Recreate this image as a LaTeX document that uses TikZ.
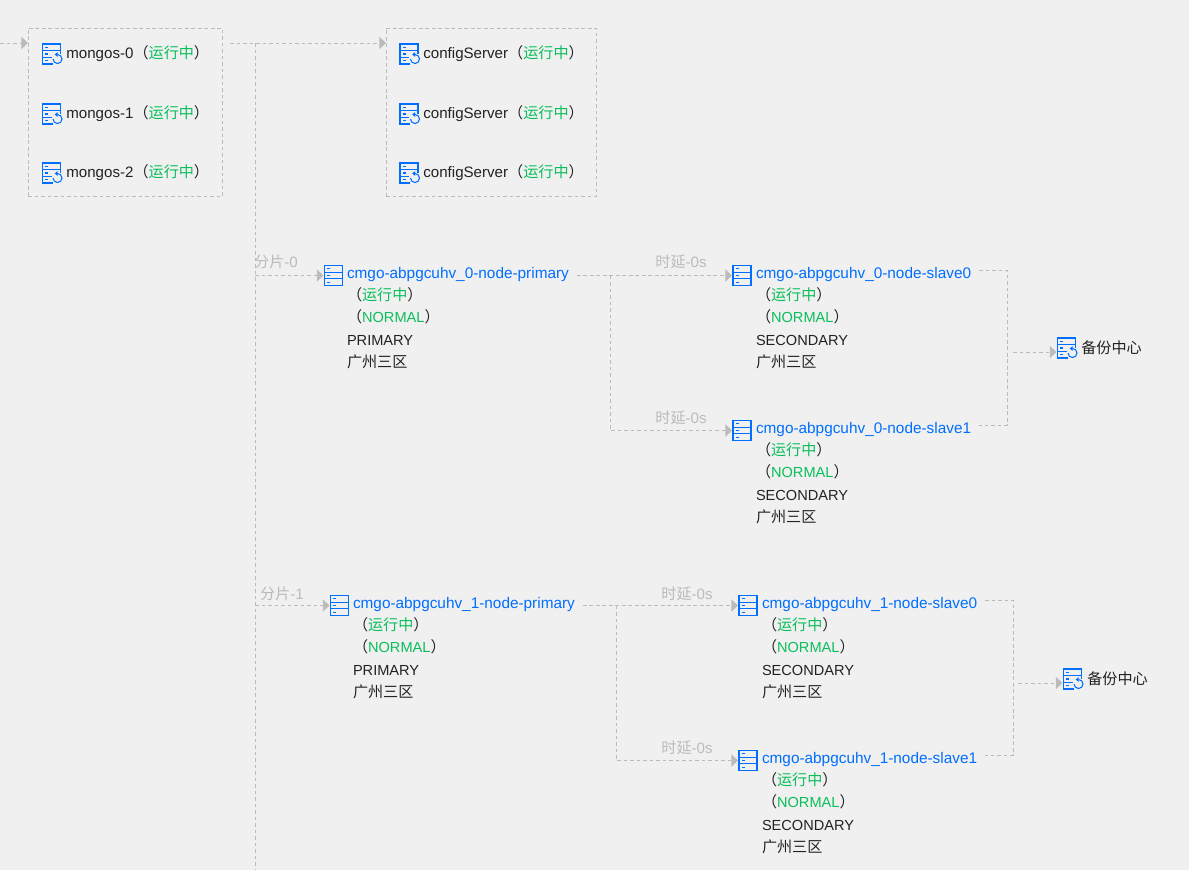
\documentclass[tikz,border=0pt]{standalone}
\usepackage{fontspec}
\setmainfont{Liberation Sans}
\newfontfamily\cjk{Noto Sans CJK SC}
\usetikzlibrary{arrows.meta}
\definecolor{canvasgray}{HTML}{F0F0F0}
\definecolor{linkgray}{HTML}{BBBBBB}
\definecolor{iconblue}{HTML}{006EFF}
\definecolor{okgreen}{HTML}{0ABF5B}
\definecolor{inkblack}{HTML}{222222}
\newcommand{\zh}[1]{{\cjk #1}}
\newcommand{\runtag}{\zh{（\textcolor{okgreen}{运行中}）}}
\newcommand{\capsize}{\fontsize{8.3}{12.76}\selectfont}
\newcommand{\nodeinfo}[2]{{\fontsize{8.74}{12.76}\selectfont\textcolor{iconblue}{#1}}\\\runtag\\\zh{（}{\capsize\textcolor{okgreen}{NORMAL}}\zh{）}\\{\capsize #2}\\\zh{广州三区}}
\tikzset{
  plainglyph/.pic={
    \draw[iconblue,line width=0.6pt] (-9,-10) rectangle (9,10) (-9,-3.3) -- (9,-3.3) (-9,3.3) -- (9,3.3);
    \foreach \rowy in {-6.7,0,6.7} \draw[iconblue,line width=0.6pt] (-6.5,\rowy) -- (-3.5,\rowy);
  },
  backupglyph/.pic={
    \draw[iconblue,line width=0.6pt] (1,10) -- (-9,10) -- (-9,-10) -- (9,-10) -- (9,0) (-9,-3.3) -- (9,-3.3) (-9,3.3) -- (0,3.3);
    \foreach \rowy in {-6.7,0,6.7} \draw[iconblue,line width=0.6pt] (-6.5,\rowy) -- (-3.5,\rowy);
    \draw[iconblue,line width=0.6pt] (6,0.5) arc[start angle=-90,end angle=180,radius=4.5];
    \fill[iconblue] (3.2,0.5) -- (6,-1.8) -- (6,2.8) -- cycle;
  }
}
\newcommand{\plainicon}[3]{\node[iconbox] (#1) at (#2,#3) {}; \pic at (#1) {plainglyph};}
\newcommand{\backupicon}[3]{\node[iconbox] (#1) at (#2,#3) {}; \pic at (#1) {backupglyph};}
\begin{document}
\begin{tikzpicture}[x=0.02cm,y=-0.02cm,
  every node/.style={font=\fontsize{8.6}{12.76}\selectfont,text=inkblack},
  iconbox/.style={minimum width=0.36cm,minimum height=0.4cm,inner sep=0pt,outer sep=0pt},
  groupbox/.style={draw=linkgray,line width=0.55pt,dash pattern=on 2.2pt off 1.5pt,inner sep=0pt,outer sep=0pt,anchor=north west},
  rowtext/.style={anchor=base west,inner sep=0pt},
  shardtext/.style={anchor=north west,align=left,inner xsep=0.16cm,inner ysep=0pt,outer sep=0pt},
  hoplabel/.style={text=linkgray,inner sep=0pt},
  link/.style={draw=linkgray,line width=0.55pt,dash pattern=on 2.2pt off 1.5pt},
  linkto/.style={link,shorten >=0.6pt,-{Triangle[length=3.8pt,width=7pt,fill=linkgray,sep=0pt]}}]
\useasboundingbox (0,0) rectangle (1189,870);
\fill[canvasgray] (0,0) rectangle (1189,870);
% top row
\node[groupbox,minimum width=3.89cm,minimum height=3.37cm] (mongosbox) at (28,28) {};
\node[groupbox,minimum width=4.21cm,minimum height=3.37cm] (configbox) at (386,28) {};
\backupicon{mongos0i}{51.5}{54}
\backupicon{mongos1i}{51.5}{114}
\backupicon{mongos2i}{51.5}{173}
\node[rowtext] (mongos0) at (66,58) {mongos-0\runtag};
\node[rowtext] (mongos1) at (66,118) {mongos-1\runtag};
\node[rowtext] (mongos2) at (66,177) {mongos-2\runtag};
\backupicon{config0i}{409}{54}
\backupicon{config1i}{409}{114}
\backupicon{config2i}{409}{173}
\node[rowtext] (config0) at (423,58) {configServer\runtag};
\node[rowtext] (config1) at (423,118) {configServer\runtag};
\node[rowtext] (config2) at (423,177) {configServer\runtag};
\coordinate (entry) at (0,43);
\coordinate (bus) at (230,43);
\coordinate (trunktop) at (255,43);
\coordinate (trunkend) at (255,870);
\draw[linkto,shorten >=0pt] (entry) -- (mongosbox.west |- entry);
\draw[linkto,shorten >=0pt] (bus) -- (configbox.west |- bus);
\draw[link] (trunktop) -- (trunkend);
% shard 0
\plainicon{prim0i}{333.5}{275.5}
\plainicon{sec00i}{742}{275.5}
\plainicon{sec01i}{742}{430.5}
\backupicon{bak0i}{1066.5}{348}
\node[shardtext] (prim0) at (339,267) {\nodeinfo{cmgo-abpgcuhv\_0-node-primary}{PRIMARY}};
\node[shardtext] (sec00) at (748,267) {\nodeinfo{cmgo-abpgcuhv\_0-node-slave0}{SECONDARY}};
\node[shardtext] (sec01) at (748,422) {\nodeinfo{cmgo-abpgcuhv\_0-node-slave1}{SECONDARY}};
\node[rowtext] (bak0) at (1081,353) {\zh{备份中心}};
\coordinate (tap0) at (255,275.5);
\coordinate (fork0) at (610,275.5);
\coordinate (joina0) at (1007,270);
\coordinate (joinb0) at (1007,425);
\coordinate (out0) at (1013,352);
\draw[linkto] (tap0) -- (prim0i.west |- tap0);
\draw[linkto] (prim0.east |- sec00i) -- (sec00i.west);
\draw[linkto] (fork0) |- (sec01i.west);
\draw[link] (sec00.east |- joina0) -- (joina0) -- (joinb0) -- (sec01.east |- joinb0);
\draw[linkto] (out0) -- (bak0i.west |- out0);
\node[hoplabel] (shard0) at (276,262) {\zh{分片}-0};
\node[hoplabel] (lag00) at (681,262) {\zh{时延}-0s};
\node[hoplabel] (lag01) at (681,418) {\zh{时延}-0s};
% shard 1
\plainicon{prim1i}{339.5}{605.5}
\plainicon{sec10i}{748}{605.5}
\plainicon{sec11i}{748}{760.5}
\backupicon{bak1i}{1072.5}{679}
\node[shardtext] (prim1) at (345,597) {\nodeinfo{cmgo-abpgcuhv\_1-node-primary}{PRIMARY}};
\node[shardtext] (sec10) at (754,597) {\nodeinfo{cmgo-abpgcuhv\_1-node-slave0}{SECONDARY}};
\node[shardtext] (sec11) at (754,752) {\nodeinfo{cmgo-abpgcuhv\_1-node-slave1}{SECONDARY}};
\node[rowtext] (bak1) at (1087,684) {\zh{备份中心}};
\coordinate (tap1) at (255,605.5);
\coordinate (fork1) at (616,605.5);
\coordinate (joina1) at (1013,600);
\coordinate (joinb1) at (1013,755);
\coordinate (out1) at (1018,683);
\draw[linkto] (tap1) -- (prim1i.west |- tap1);
\draw[linkto] (prim1.east |- sec10i) -- (sec10i.west);
\draw[linkto] (fork1) |- (sec11i.west);
\draw[link] (sec10.east |- joina1) -- (joina1) -- (joinb1) -- (sec11.east |- joinb1);
\draw[linkto] (out1) -- (bak1i.west |- out1);
\node[hoplabel] (shard1) at (282,594) {\zh{分片}-1};
\node[hoplabel] (lag10) at (687,594) {\zh{时延}-0s};
\node[hoplabel] (lag11) at (687,748) {\zh{时延}-0s};
\end{tikzpicture}
\end{document}
